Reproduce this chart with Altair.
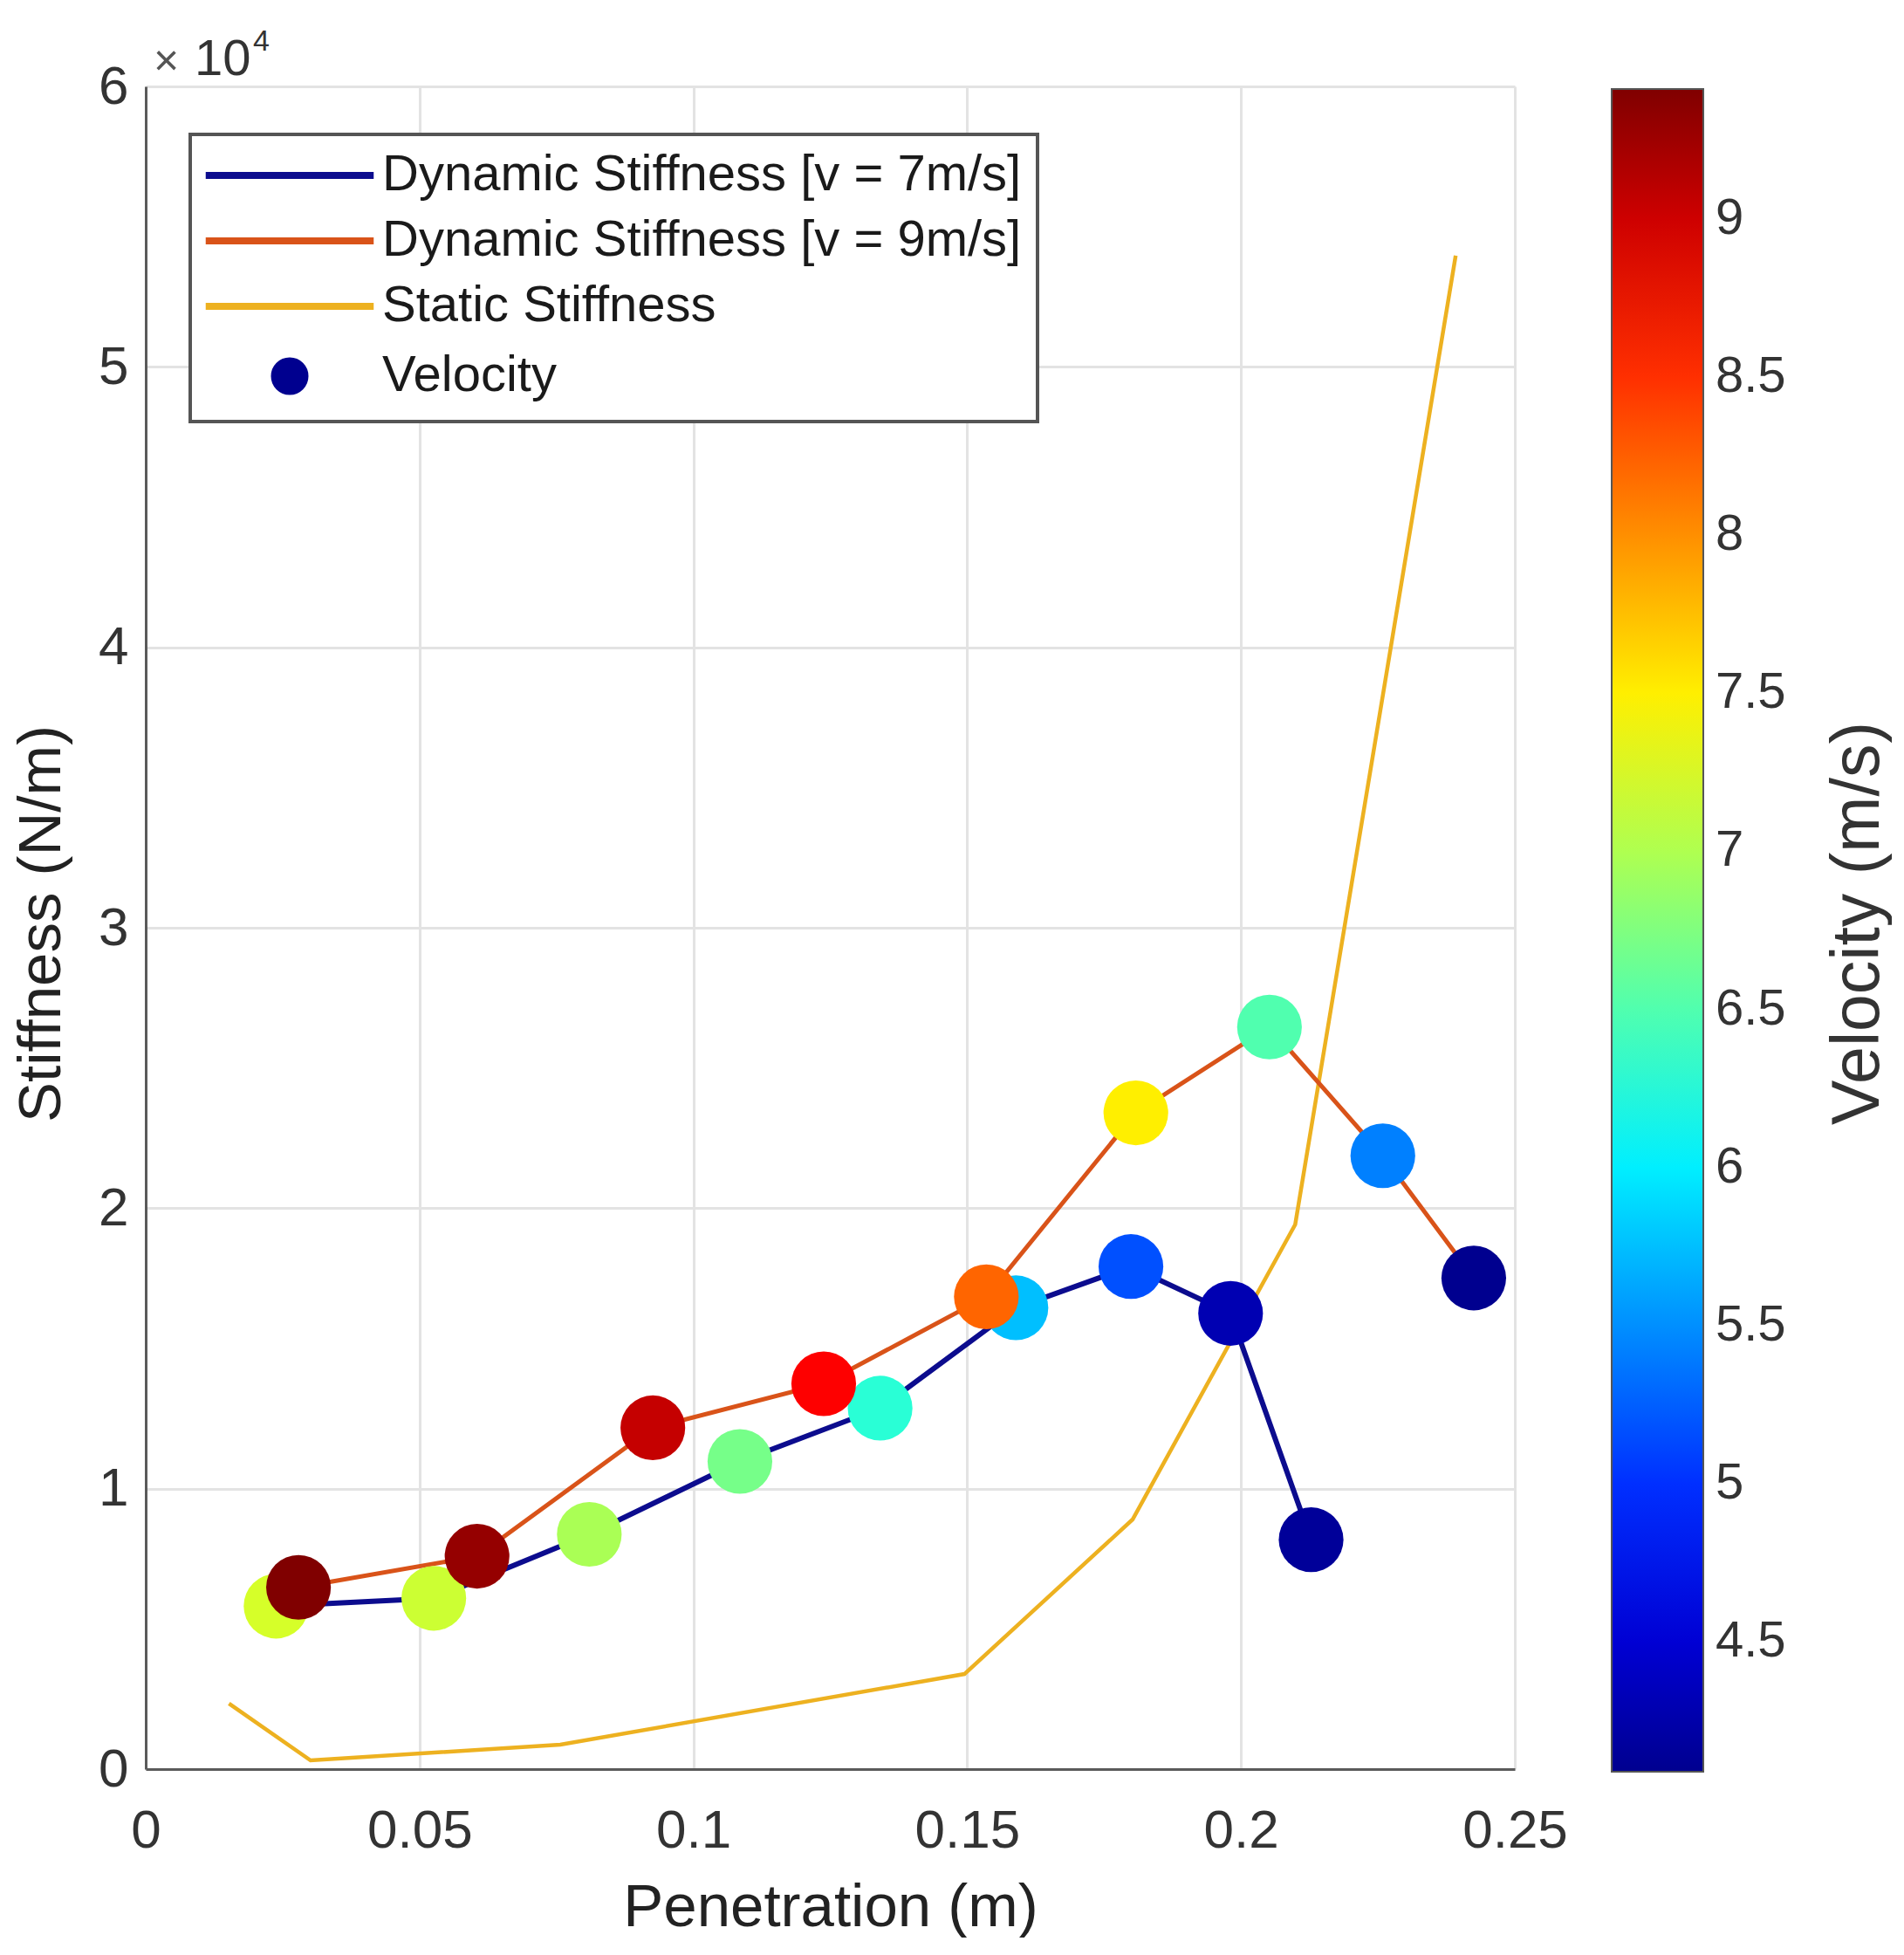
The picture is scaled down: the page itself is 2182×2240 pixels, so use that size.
import altair as alt
import pandas as pd

# ---------------- data ----------------
pen_v7 = [0.0238, 0.0526, 0.0810, 0.1085, 0.1341, 0.1589, 0.1799, 0.1981, 0.2128]
stiff_v7 = [5810, 6090, 8370, 10970, 12870, 16450, 17920, 16250, 8180]
vel_v7 = [7.20, 7.15, 6.97, 6.70, 6.30, 5.75, 5.17, 4.30, 4.15]

pen_v9 = [0.0279, 0.0605, 0.0926, 0.1238, 0.1535, 0.1808, 0.2052, 0.2259, 0.2425]
stiff_v9 = [6480, 7590, 12170, 13740, 16840, 23400, 26460, 21870, 17510]
vel_v9 = [9.41, 9.30, 9.05, 8.75, 8.22, 7.50, 6.50, 5.42, 4.09]

pen_static = [0.0152, 0.0301, 0.0757, 0.1495, 0.1802, 0.2099, 0.2392]
stiff_static = [2340, 310, 870, 3390, 8900, 19420, 53970]

series_names = ["Dynamic Stiffness [v = 7m/s]", "Dynamic Stiffness [v = 9m/s]",
                "Static Stiffness", "Velocity"]
series_colors = ["#0c0c8e", "#D95319", "#EDB120", "#00008F"]
series_fills = ["transparent", "transparent", "transparent", "#00008F"]
series_shapes = ["M-5.5,0H5.5", "M-5.5,0H5.5", "M-5.5,0H5.5", "circle"]

x_ticks = [0, 0.05, 0.1, 0.15, 0.2, 0.25]
y_ticks = [0, 10000, 20000, 30000, 40000, 50000, 60000]
cbar_ticks = [4.5, 5, 5.5, 6, 6.5, 7, 7.5, 8, 8.5, 9]
jet_domain = [4.09, 4.755, 6.085, 7.415, 8.745, 9.41]
jet_colors = ["#00008F", "#0000FF", "#00FFFF", "#FFFF00", "#FF0000", "#800000"]

# ---------------- tables ----------------
df_v7 = pd.DataFrame({"pen": pen_v7, "stiff": stiff_v7, "i": range(len(pen_v7))})
df_v9 = pd.DataFrame({"pen": pen_v9, "stiff": stiff_v9, "i": range(len(pen_v9))})
df_st = pd.DataFrame({"pen": pen_static, "stiff": stiff_static, "i": range(len(pen_static))})
df_pts = pd.concat([
    pd.DataFrame({"pen": pen_v7, "stiff": stiff_v7, "vel": vel_v7}),
    pd.DataFrame({"pen": pen_v9, "stiff": stiff_v9, "vel": vel_v9}),
], ignore_index=True)
df_leg = pd.DataFrame({"series": series_names, "pen": [1.0] * 4, "stiff": [0] * 4})

W, H = 1569, 1928
FONT = "Liberation Sans"
TXT = "#333333"

x_scale = alt.Scale(domain=[0, 0.25], nice=False, zero=False)
y_scale = alt.Scale(domain=[0, 60000], nice=False)
stroke_scale = alt.Scale(domain=series_names, range=series_colors)
fill_scale = alt.Scale(domain=series_names, range=series_fills)
shape_scale = alt.Scale(domain=series_names, range=series_shapes)

x_axis = alt.Axis(values=x_ticks, format="~g", title="Penetration (m)",
                  labelPadding=40, labelFlush=False, titleY=158, titleBaseline="middle")
y_axis = alt.Axis(values=y_ticks, labelExpr="datum.value / 10000", title="Stiffness (N/m)",
                  labelPadding=20, labelFlush=False, titleX=-120, titleY=959, titleAngle=270,
                  titleAlign="center", titleBaseline="middle")

X = alt.X("pen:Q", scale=x_scale, axis=x_axis)
Y = alt.Y("stiff:Q", scale=y_scale, axis=y_axis)


def line_layer(df, color, width):
    return alt.Chart(df).mark_line(strokeWidth=width, color=color).encode(
        x=X, y=Y, order="i:Q",
    )


series_legend = alt.Legend(
    orient="none", legendX=51, legendY=55, title=None,
    fillColor="white", strokeColor="#555555", padding=18,
    symbolOffset=67, labelOffset=77, rowPadding=17,
    labelFontSize=58, labelFont=FONT, labelColor="#1a1a1a", labelLimit=2000,
    labelExpr="datum.label + '\u00a0'",
    symbolSize=1225, symbolStrokeWidth=8, symbolOpacity=1,
)

legend_layer = alt.Chart(df_leg).mark_point(filled=True, clip=True, size=1225).encode(
    x=X, y=Y,
    stroke=alt.Stroke("series:N", scale=stroke_scale, legend=series_legend),
    fill=alt.Fill("series:N", scale=fill_scale, legend=series_legend),
    shape=alt.Shape("series:N", scale=shape_scale, legend=series_legend),
)

points = alt.Chart(df_pts).mark_circle(size=5500, opacity=1).encode(
    x=X, y=Y,
    color=alt.Color("vel:Q",
                    scale=alt.Scale(domain=jet_domain, range=jet_colors, interpolate="rgb"),
                    legend=alt.Legend(orient="none", legendX=1680, legendY=3,
                                      direction="vertical", title=None,
                                      gradientLength=1928, gradientThickness=105,
                                      gradientStrokeColor="#555555", gradientStrokeWidth=2,
                                      values=cbar_ticks, format="~g",
                                      labelFontSize=58, labelFont=FONT,
                                      labelColor=TXT, labelOffset=14)),
)

cbar_title = alt.Chart(pd.DataFrame({"t": ["Velocity (m/s)"]})).mark_text(
    angle=270, align="center", baseline="middle", fontSize=77, font=FONT, color=TXT
).encode(text="t:N", x=alt.value(1963), y=alt.value(959))

exp_times = alt.Chart(pd.DataFrame({"t": ["\u00d7"]})).mark_text(
    align="left", baseline="alphabetic", fontSize=50, font=FONT, color="#555555"
).encode(text="t:N", x=alt.value(9), y=alt.value(-13))

exp_base = alt.Chart(pd.DataFrame({"t": ["10"]})).mark_text(
    align="left", baseline="alphabetic", fontSize=58, font=FONT, color=TXT
).encode(text="t:N", x=alt.value(56), y=alt.value(-13))

exp_pow = alt.Chart(pd.DataFrame({"t": ["4"]})).mark_text(
    align="left", baseline="alphabetic", fontSize=34, font=FONT, color=TXT
).encode(text="t:N", x=alt.value(123), y=alt.value(-41))

chart = alt.layer(
    line_layer(df_st, series_colors[2], 4.5),
    line_layer(df_v9, series_colors[1], 5),
    line_layer(df_v7, series_colors[0], 6),
    points,
    legend_layer,
    cbar_title, exp_times, exp_base, exp_pow,
).properties(
    width=W, height=H,
    padding={"left": 5, "top": 23, "right": 0, "bottom": 0},
).configure_view(strokeWidth=0).configure_axis(
    labelFont=FONT, titleFont=FONT, labelFontSize=62, titleFontSize=69,
    labelColor=TXT, titleColor="#222222", titleFontWeight="normal",
    grid=True, gridColor="#e3e3e3", gridWidth=3,
    domainColor="#5a5a5a", domainWidth=3, ticks=False,
).configure_legend(strokeWidth=4)

chart.save("out.html", embed_options={"renderer": "svg", "actions": False})
